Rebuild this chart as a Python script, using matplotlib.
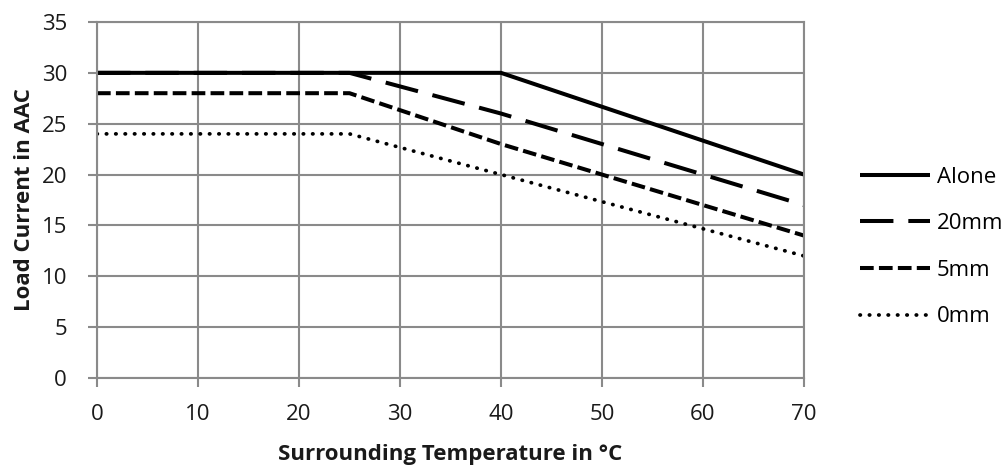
import matplotlib.pyplot as plt

plt.rcParams['font.family'] = ['Open Sans', 'DejaVu Sans']

temps = [0, 25, 40, 70]
alone = [30, 30, 30, 20]
mm20 = [30, 30, 26, 17]
mm5 = [28, 28, 23, 14]
mm0 = [24, 24, 20, 12]

fig = plt.figure(figsize=(10.06, 4.71), dpi=100)
ax = fig.add_axes([0.0964, 0.1975, 0.7028, 0.7558])

ax.plot(temps, alone, color="black", lw=2.9, label="Alone", solid_capstyle="butt")
ax.plot(temps, mm20, color="black", lw=2.9, linestyle=(0, (8.3, 3.7)), label="20mm")
ax.plot(temps, mm5, color="black", lw=2.9, linestyle=(0, (3.4, 1.3)), label="5mm")
ax.plot(temps, mm0, color="black", lw=2.7, linestyle=(0, (0.1, 2.4)),
        dash_capstyle="round", label="0mm")

ax.set_xlim(0, 70)
ax.set_ylim(0, 35)
ax.set_xticks(range(0, 71, 10))
ax.set_yticks(range(0, 36, 5))
ax.grid(True, color="#8a8a8a", lw=1.5)
ax.set_axisbelow(True)
for s in ax.spines.values():
    s.set_color("#8a8a8a")
    s.set_linewidth(1.5)
ax.tick_params(colors="#8a8a8a", labelcolor="#1a1a1a", labelsize=16, length=6.5, width=1.5)
ax.tick_params(axis="x", pad=12)
ax.tick_params(axis="y", pad=15)

ax.set_xlabel("Surrounding Temperature in °C", fontsize=16, fontweight="bold",
              color="#1a1a1a", labelpad=14)
ax.set_ylabel("Load Current in AAC", fontsize=16, fontweight="bold",
              color="#1a1a1a", labelpad=5)

ax.legend(loc="center left", bbox_to_anchor=(0.855, 0.4756),
          bbox_transform=fig.transFigure, borderaxespad=0, borderpad=0,
          frameon=False, fontsize=16, handlelength=3.15, handletextpad=0.3,
          labelspacing=1.15)

plt.savefig("out.png", dpi=100)
